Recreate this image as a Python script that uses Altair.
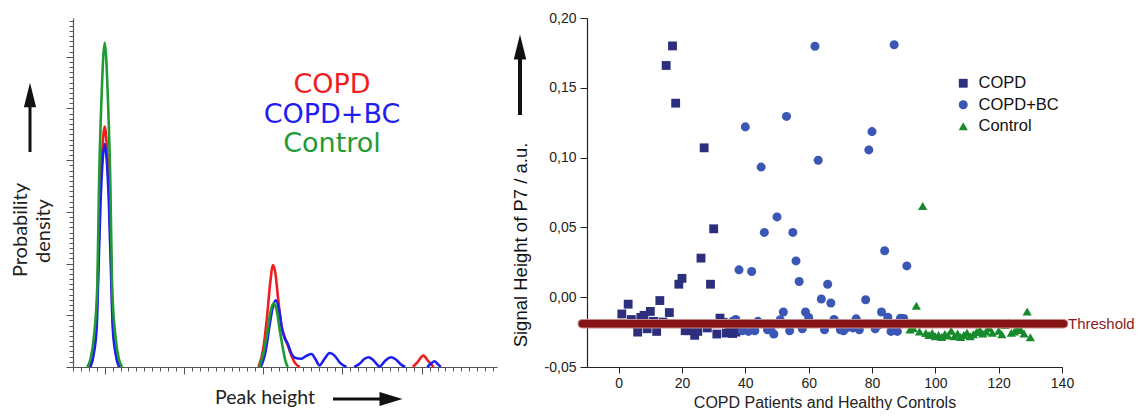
import altair as alt
import pandas as pd

# ---------------- Left panel: probability density curves ----------------
series_names = ["COPD", "COPD+BC", "Control"]
series_colors = ["#f01e1e", "#1e1ef0", "#1f9a35"]

copd_x = [-0.19, -0.14, -0.105, -0.085, -0.055, -0.03, 0.0, 0.03, 0.055, 0.085, 0.105, 0.14, 0.19,
          1.94, 2.00, 2.05, 2.09, 2.12, 2.15, 2.19, 2.23, 2.27, 2.31, 2.35, 2.40, 2.46,
          3.89, 3.95, 4.02, 4.08, 4.15]
copd_y = [0.0, 0.3, 0.85, 1.78, 3.5, 4.2, 4.65, 4.2, 3.5, 1.78, 0.85, 0.3, 0.0,
          0.0, 0.35, 1.0, 1.65, 1.97, 1.85, 1.3, 0.8, 0.58, 0.42, 0.24, 0.08, 0.0,
          0.0, 0.1, 0.22, 0.12, 0.0]
copd_seg = [1] * 13 + [2] * 13 + [3] * 5

bc_x = [-0.18, -0.135, -0.1, -0.082, -0.052, -0.03, 0.0, 0.03, 0.052, 0.082, 0.1, 0.135, 0.18,
        1.97, 2.03, 2.08, 2.12, 2.16, 2.20, 2.24, 2.27, 2.31, 2.35, 2.40, 2.48, 2.55, 2.61, 2.66,
        2.71, 2.77, 2.84, 2.90, 2.97, 3.05,
        3.15, 3.22, 3.28, 3.33, 3.39, 3.47, 3.54, 3.61, 3.67, 3.73, 3.79,
        4.07, 4.12, 4.16, 4.20, 4.24]
bc_y = [0.0, 0.28, 0.8, 1.7, 3.2, 3.9, 4.31, 3.9, 3.2, 1.7, 0.8, 0.28, 0.0,
        0.0, 0.3, 0.8, 1.15, 1.29, 1.1, 0.72, 0.56, 0.45, 0.28, 0.18, 0.16, 0.22, 0.25, 0.15,
        0.03, 0.15, 0.27, 0.22, 0.08, 0.0,
        0.0, 0.07, 0.16, 0.19, 0.13, 0.01, 0.12, 0.19, 0.15, 0.06, 0.0,
        0.0, 0.07, 0.11, 0.06, 0.0]
bc_seg = [1] * 13 + [2] * 21 + [3] * 11 + [4] * 5

ctrl_x = [-0.22, -0.18, -0.135, -0.093, -0.072, -0.042, 0.0, 0.042, 0.072, 0.093, 0.135, 0.18, 0.22,
          1.95, 2.00, 2.05, 2.09, 2.13, 2.17, 2.21, 2.25, 2.28, 2.31]
ctrl_y = [0.0, 0.15, 0.6, 1.59, 3.5, 5.12, 6.27, 5.12, 3.5, 1.59, 0.6, 0.15, 0.0,
          0.0, 0.25, 0.65, 1.05, 1.23, 1.1, 0.7, 0.35, 0.12, 0.0]
ctrl_seg = [1] * 13 + [2] * 10

left_x_ticks = [round(-0.4 + 0.1 * i, 1) for i in range(54)]
left_y_ticks = [round(0.1 * i, 1) for i in range(68)]

# ---------------- Right panel: signal height scatter ----------------
copd_px = [1, 3, 4, 5, 6, 7, 8, 9, 10, 11, 12, 13, 14, 15, 16, 17, 18, 19, 20, 21,
           22, 23, 24, 25, 26, 27, 28, 29, 30, 31, 32, 33, 34, 35, 36, 37]
copd_py = [-0.012, -0.005, -0.016, -0.019, -0.025, -0.0145, -0.013, -0.0226, -0.0102, -0.0173,
           -0.0245, -0.0024, -0.0178, 0.166, -0.011, 0.180, 0.139, 0.0093, 0.0135, -0.024,
           -0.024, -0.021, -0.0273, -0.0245, 0.028, 0.107, -0.022, 0.0093, 0.049, -0.0264,
           -0.015, -0.018, -0.0257, -0.024, -0.026, -0.025]

bc_px = [36, 37, 38, 39, 40, 41, 42, 43, 44, 45, 46, 47, 48, 49, 50, 51, 52, 53, 54, 55,
         56, 57, 58, 59, 60, 61, 62, 63, 64, 65, 66, 67, 68, 69, 70, 71, 72, 73, 74, 75,
         76, 77, 78, 79, 80, 81, 82, 83, 84, 85, 86, 87, 88, 89, 90, 91]
bc_py = [-0.0173, -0.016, 0.0196, -0.024, 0.122, -0.0245, 0.0184, -0.024, -0.0173, 0.0932,
         0.0464, -0.0233, -0.023, -0.0264, 0.0575, -0.0162, -0.0106, 0.1295, -0.024, 0.0464,
         0.026, 0.0112, -0.0226, -0.0106, -0.0145, -0.0185, 0.1798, 0.0981, -0.0013, -0.0233,
         0.0093, -0.0042, -0.016, -0.0185, -0.0233, -0.024, -0.022, -0.019, -0.022, -0.0155,
         -0.0233, -0.019, -0.0018, 0.1055, 0.1186, -0.0226, -0.020, -0.0106, 0.0333, -0.0144,
         -0.0245, 0.1808, -0.0245, -0.015, -0.0153, 0.0224]

ctrl_px = [92, 93, 94, 95, 96, 97, 98, 99, 100, 101, 102, 103, 104, 105, 106, 107, 108, 109,
           110, 111, 112, 113, 114, 115, 116, 117, 118, 119, 120, 121, 122, 123, 124, 125, 126,
           127, 128, 129, 130]
ctrl_py = [-0.0232, -0.022, -0.0062, -0.0245, 0.0654, -0.0257, -0.027, -0.0257, -0.028, -0.027,
           -0.0285, -0.0264, -0.0275, -0.024, -0.028, -0.026, -0.0285, -0.027, -0.0255, -0.028,
           -0.0265, -0.025, -0.0235, -0.026, -0.0245, -0.022, -0.0255, -0.019, -0.024, -0.0265,
           -0.020, -0.018, -0.0255, -0.0245, -0.0225, -0.0235, -0.026, -0.0102, -0.0287]

point_colors = ["#2b2f7e", "#3b57b5", "#178a2c"]
point_shapes = ["square", "circle", "triangle-up"]
point_sizes = [78, 85, 100]

threshold_value = [-0.019]
threshold_span = [-11.5, 140.5]

right_x_ticks = list(range(0, 141, 10))
right_y_ticks = [round(-0.05 + 0.025 * i, 3) for i in range(11)]

# ---------------- build tables ----------------
curves = pd.DataFrame({
    "x": copd_x + bc_x + ctrl_x,
    "y": copd_y + bc_y + ctrl_y,
    "series": ["COPD"] * len(copd_x) + ["COPD+BC"] * len(bc_x) + ["Control"] * len(ctrl_x),
    "seg": [f"a{s}" for s in copd_seg] + [f"b{s}" for s in bc_seg] + [f"c{s}" for s in ctrl_seg],
})
points = pd.DataFrame({
    "patient": copd_px + bc_px + ctrl_px,
    "signal": copd_py + bc_py + ctrl_py,
    "group": ["COPD"] * len(copd_px) + ["COPD+BC"] * len(bc_px) + ["Control"] * len(ctrl_px),
})
thr = pd.DataFrame({"y": threshold_value, "x": [threshold_span[0]], "x2": [threshold_span[1]]})
one = pd.DataFrame({"k": [0]})

LW, LH = 424, 349
RW, RH = 475, 349

left_major = "abs(round(datum.value) - datum.value) < 0.001"
left_x_axis = alt.Axis(values=left_x_ticks, labels=False, title=None, grid=False,
                       domainColor="#555", tickColor="#555", domainWidth=1.2,
                       tickSize={"condition": {"test": left_major, "value": 7}, "value": 4})
left_y_axis = alt.Axis(values=left_y_ticks, labels=False, title=None, grid=False,
                       domainColor="#555", tickColor="#555", domainWidth=1.2,
                       tickSize={"condition": {"test": left_major, "value": 7}, "value": 4})

lines = alt.Chart(curves).mark_line(strokeWidth=2.6, interpolate="monotone").encode(
    x=alt.X("x:Q", scale=alt.Scale(domain=[-0.4, 4.95], nice=False, zero=False), axis=left_x_axis),
    y=alt.Y("y:Q", scale=alt.Scale(domain=[0, 6.75], nice=False), axis=left_y_axis),
    color=alt.Color("series:N", scale=alt.Scale(domain=series_names, range=series_colors), legend=None),
    detail="seg:N",
)

base1 = alt.Chart(one)
lfont = "DejaVu Sans"
leg_copd = base1.mark_text(text="COPD", font=lfont, fontSize=27, color=series_colors[0]).encode(
    x=alt.value(259), y=alt.value(66.5))
leg_bc = base1.mark_text(text="COPD+BC", font=lfont, fontSize=27, color=series_colors[1]).encode(
    x=alt.value(259), y=alt.value(97))
leg_ct = base1.mark_text(text="Control", font=lfont, fontSize=27, color=series_colors[2]).encode(
    x=alt.value(259), y=alt.value(126))
tfont = "Lato"
ytitle1 = base1.mark_text(text="Probability", font=tfont, fontSize=20, angle=270, color="#222").encode(
    x=alt.value(-52), y=alt.value(212))
ytitle2 = base1.mark_text(text="density", font=tfont, fontSize=20, angle=270, color="#222").encode(
    x=alt.value(-29), y=alt.value(213))
up_line = base1.mark_rule(strokeWidth=3, color="#111").encode(
    x=alt.value(-43), y=alt.value(84), y2=alt.value(134))
up_head = base1.mark_point(shape="M-0.5,1L0,-1L0.5,1Z", size=600, filled=True, opacity=1,
                           color="#111").encode(x=alt.value(-43), y=alt.value(77))
xtitle1 = base1.mark_text(text="Peak height", font=tfont, fontSize=19.5, color="#222").encode(
    x=alt.value(192), y=alt.value(380))
rt_line = base1.mark_rule(strokeWidth=3, color="#111").encode(
    x=alt.value(260), x2=alt.value(314), y=alt.value(381))
rt_head = base1.mark_point(shape="M-1,-0.6L1,0L-1,0.6Z", size=530, filled=True, opacity=1,
                           color="#111").encode(x=alt.value(318), y=alt.value(381))

left = alt.layer(lines, leg_copd, leg_bc, leg_ct, ytitle1, ytitle2, up_line, up_head,
                 xtitle1, rt_line, rt_head).properties(width=LW, height=LH)

# ---------------- right panel ----------------
rfont = "Liberation Sans"
ymaj = "abs(round(datum.value*20) - datum.value*20) < 0.001"
right_x_axis = alt.Axis(values=right_x_ticks, grid=False, title="COPD Patients and Healthy Controls",
                        titleFont=rfont, titleFontSize=16, titleFontWeight="normal", titleColor="#222",
                        titlePadding=4, labelFont=rfont, labelFontSize=14, labelColor="#222",
                        labelPadding=3, labelOverlap=False, labelFlush=False,
                        labelExpr="datum.value % 20 === 0 ? datum.label : ''",
                        domainColor="#222", tickColor="#222", domainWidth=1.2,
                        tickSize={"condition": {"test": "datum.value % 20 === 0", "value": 6}, "value": 3})
right_y_axis = alt.Axis(values=right_y_ticks, grid=False, title=None,
                        labelFont=rfont, labelFontSize=14, labelColor="#222", labelPadding=4,
                        labelOverlap=False,
                        labelExpr=ymaj + " ? replace(replace(format(datum.value, '.2f'), '.', ','), '\u2212', '-') : ''",
                        domainColor="#222", tickColor="#222", domainWidth=1.2,
                        tickSize={"condition": {"test": ymaj, "value": 7}, "value": 3})

scatter = alt.Chart(points).mark_point(filled=True, opacity=1).encode(
    x=alt.X("patient:Q", scale=alt.Scale(domain=[-10, 140], nice=False, zero=False), axis=right_x_axis),
    y=alt.Y("signal:Q", scale=alt.Scale(domain=[-0.05, 0.20], nice=False, zero=False), axis=right_y_axis),
    color=alt.Color("group:N", scale=alt.Scale(domain=series_names, range=point_colors),
                    legend=alt.Legend(title=None, orient="none", legendX=368, legendY=57,
                                      labelFont=rfont, labelFontSize=16.5, labelColor="#111",
                                      symbolSize=60, rowPadding=4.5, labelOffset=7, padding=0)),
    shape=alt.Shape("group:N", scale=alt.Scale(domain=series_names, range=point_shapes), legend=None),
    size=alt.Size("group:N", scale=alt.Scale(domain=series_names, range=point_sizes), legend=None),
)

thr_glow = alt.Chart(thr).mark_rule(strokeWidth=9.5, color="#c98c8c", strokeCap="round").encode(
    x="x:Q", x2="x2:Q", y="y:Q")
thr_line = alt.Chart(thr).mark_rule(strokeWidth=7.5, color="#861414", strokeCap="round").encode(
    x="x:Q", x2="x2:Q", y="y:Q")

base2 = alt.Chart(one)
thr_text = base2.mark_text(text="Threshold", font=rfont, fontSize=15, color="#8b1a1a", align="left",
                           baseline="middle").encode(x=alt.value(RW + 6), y=alt.value(306))
ytitle_r = base2.mark_text(text="Signal Height of P7 / a.u.", font=rfont, fontSize=18.5, angle=270,
                           color="#111").encode(x=alt.value(-66), y=alt.value(227))
up_line2 = base2.mark_rule(strokeWidth=4, color="#111").encode(
    x=alt.value(-67), y=alt.value(36), y2=alt.value(97))
up_head2 = base2.mark_point(shape="M-0.5,1L0,-1L0.5,1Z", size=620, filled=True, opacity=1,
                            color="#111").encode(x=alt.value(-67), y=alt.value(29))

right = alt.layer(scatter, thr_glow, thr_line, thr_text, ytitle_r, up_line2, up_head2).properties(
    width=RW, height=RH)

chart = alt.hconcat(left, right, spacing=15).resolve_scale(
    color="independent", shape="independent", size="independent"
).properties(
    padding={"left": 3, "top": 3, "right": 0, "bottom": 0}
).configure_view(stroke=None)

chart.save("out.html", embed_options={"renderer": "svg", "actions": False})
